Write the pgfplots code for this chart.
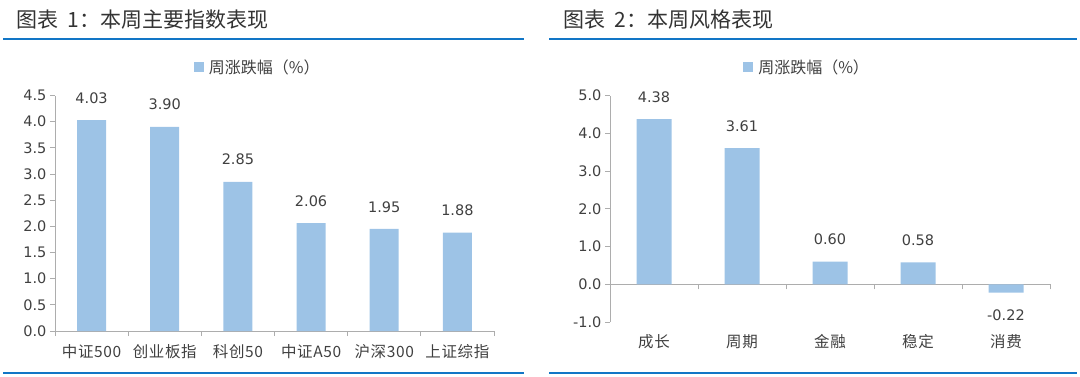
\documentclass[border=0pt]{standalone}
\usepackage{fontspec}
\setmainfont{Noto Sans CJK SC}
\newfontfamily\numfont{DejaVu Sans}
\newfontfamily\catfont[LetterSpace=4]{Noto Sans CJK SC}
\usepackage{pgfplots}
\pgfplotsset{compat=1.18}
\definecolor{barblue}{HTML}{9DC3E6}
\definecolor{lineblue}{HTML}{1276C6}
\definecolor{axgray}{HTML}{ADADAD}
\definecolor{txt}{HTML}{404040}
\definecolor{titlec}{HTML}{333333}
\pgfplotsset{
 common/.style={
  scale only axis, ybar, clip=false,
  axis line style={axgray, -, line width=0.9pt},
  tick style={axgray, line width=0.9pt}, major tick length=5pt,
  tick align=outside,
  xmin=-0.5,
  xticklabel style={font=\catfont\fontsize{15.5}{18}\selectfont, text=txt},
  yticklabel style={font=\numfont\fontsize{14.5}{17}\selectfont, text=txt},
  /pgf/number format/assume math mode=true,
  yticklabel style={/pgf/number format/fixed, /pgf/number format/fixed zerofill, /pgf/number format/precision=1},
  x tick label as interval,
  nodes near coords,
  nodes near coords style={font=\numfont\fontsize{14.5}{17}\selectfont, text=txt, inner ysep=16.5pt, inner xsep=0pt, /pgf/number format/.cd, fixed, fixed zerofill, precision=2},
  legend style={draw=none, fill=none, font=\fontsize{16}{19}\selectfont, text=txt, anchor=center},
  legend image code/.code={\fill[barblue] (0pt,-5pt) rectangle (10pt,5pt);},
 }
}
\begin{document}
\begin{tikzpicture}[x=1pt,y=1pt]
\useasboundingbox (0,0) rectangle (1080,376);
\node[anchor=west, inner sep=0pt, font=\fontsize{21}{25}\selectfont, text=titlec] at (16,356) {图表\hspace{0.45em}1：本周主要指数表现};
\node[anchor=west, inner sep=0pt, font=\fontsize{21}{25}\selectfont, text=titlec] at (563,356) {图表\hspace{0.45em}2：本周风格表现};
\draw[lineblue, line width=2pt] (3,337) -- (524,337);
\draw[lineblue, line width=2pt] (3,3.5) -- (524,3.5);
\draw[lineblue, line width=2pt] (549,337) -- (1077,337);
\draw[lineblue, line width=2pt] (549,3.5) -- (1077,3.5);

\begin{axis}[common, at={(55pt,45pt)}, anchor=south west, width=439pt, height=235.5pt,
  xmax=5.5, ymin=0, ymax=4.5, ytick={0,0.5,1,1.5,2,2.5,3,3.5,4,4.5},
  xtick={-0.5,0.5,1.5,2.5,3.5,4.5,5.5},
  xticklabels={中证500,创业板指,科创50,中证A50,沪深300,上证综指},
  xticklabel style={yshift=-4.5pt},
  bar width=29pt, axis x line*=bottom, axis y line*=left,
  legend style={at={(0.462,1.121)}, /tikz/every odd column/.append style={column sep=3pt}}]
\addplot[fill=barblue, draw=none] coordinates {(0,4.03) (1,3.90) (2,2.85) (3,2.06) (4,1.95) (5,1.88)};
\addlegendentry{周涨跌幅（\%）}
\end{axis}

\begin{axis}[common, at={(610pt,54pt)}, anchor=south west, width=440pt, height=226.3pt,
  xmax=4.5, ymin=-1, ymax=5, ytick={-1,0,1,2,3,4,5},
  xtick={-0.5,0.5,1.5,2.5,3.5,4.5},
  xticklabels={成长,周期,金融,稳定,消费},
  xticklabel style={yshift=-42pt},
  bar width=35pt, axis x line*=middle, axis y line*=left,
  hide obscured x ticks=false, hide obscured y ticks=false,
  legend style={at={(0.448,1.127)}, /tikz/every odd column/.append style={column sep=3pt}}]
\addplot[fill=barblue, draw=none] coordinates {(0,4.38) (1,3.61) (2,0.60) (3,0.58) (4,-0.22)};
\addlegendentry{周涨跌幅（\%）}
\end{axis}
\end{tikzpicture}
\end{document}
